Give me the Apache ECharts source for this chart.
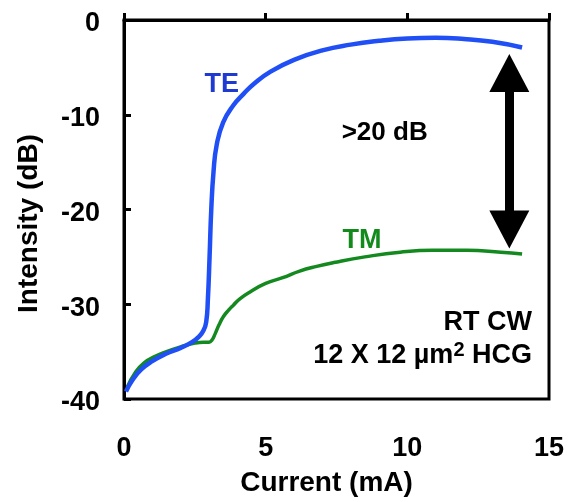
<!DOCTYPE html>
<html>
<head>
<meta charset="utf-8">
<script src="https://cdn.jsdelivr.net/npm/echarts@6/dist/echarts.min.js"></script>
<style>html,body{margin:0;padding:0;background:#fff}#c{width:568px;height:502px}</style>
</head>
<body>
<div id="c"></div>
<script>
var xTicks = [0, 5, 10, 15];
var yTicks = [-40, -30, -20, -10, 0];
var teX = [0.07,0.3,0.6,1.0,1.5,2.0,2.4,2.65,2.8,2.9,2.96,3.02,3.08,3.16,3.27,3.5,3.86,4.22,4.6,5.2,6,7,8,9,10,11,12,13,14.05];
var teY = [-39.2,-38.0,-36.9,-36.0,-35.2,-34.6,-34.0,-33.4,-32.8,-31.9,-29.5,-25,-20,-16,-13.2,-10.8,-9.0,-7.8,-6.7,-5.4,-4.2,-3.2,-2.6,-2.2,-1.95,-1.87,-2.0,-2.3,-2.9];
var tmX = [0.12,0.4,0.7,1.1,1.5,2.0,2.5,2.8,3.0,3.1,3.22,3.35,3.51,3.7,3.86,4.1,4.45,5.0,5.6,6.2,6.8,7.4,8.5,9.75,10.9,12.1,13.3,14.05];
var tmY = [-38.7,-37.2,-36.2,-35.5,-35.0,-34.5,-34.1,-34.0,-34.0,-33.8,-33.1,-32.2,-31.3,-30.6,-30.1,-29.4,-28.7,-27.8,-27.2,-26.5,-26.0,-25.6,-25.0,-24.5,-24.3,-24.3,-24.5,-24.7];
var arrowX = 13.6;
var arrowY = [-5.6, -22.1];
var notes = [
  {name: 'TE', x: 3.45, y: -6.8},
  {name: 'TM', x: 8.4, y: -23.3},
  {name: '>20 dB', x: 9.2, y: -11.9},
  {name: 'RT CW', x: 14.4, y: -31.9},
  {name: 'HCG', x: 14.4, y: -35.4}
];
function pts(xs, ys){ return xs.map(function(x,i){ return [x, ys[i]]; }); }
var FONT = '"Liberation Sans", Arial, sans-serif';
var chart = echarts.init(document.getElementById('c'));
function note(n){ return notes.filter(function(d){return d.name===n;})[0]; }
chart.setOption({
  animation: false,
  grid: {left: 124, top: 20, right: 19, bottom: 100, show: true, borderColor: '#000', borderWidth: 3, backgroundColor: 'transparent'},
  xAxis: {
    type: 'value', min: xTicks[0], max: xTicks[xTicks.length-1], interval: 5,
    name: 'Current (mA)', nameLocation: 'middle', nameGap: 70,
    nameTextStyle: {fontFamily: FONT, fontWeight: 'bold', fontSize: 28, color: '#000', padding: [0, 20, 0, 0]},
    axisLine: {show: true, lineStyle: {color: '#000', width: 3}},
    axisTick: {show: true, inside: true, length: 7, lineStyle: {color: '#000', width: 3}},
    axisLabel: {margin: 36, fontFamily: FONT, fontWeight: 'bold', fontSize: 27, color: '#000'},
    splitLine: {show: false}
  },
  yAxis: {
    type: 'value', min: yTicks[0], max: yTicks[yTicks.length-1], interval: 10,
    name: 'Intensity (dB)', nameLocation: 'middle', nameGap: 81,
    nameTextStyle: {fontFamily: FONT, fontWeight: 'bold', fontSize: 28, color: '#000', padding: [0, 28, 0, 0]},
    axisLine: {show: true, lineStyle: {color: '#000', width: 3}},
    axisTick: {show: true, inside: true, length: 7, lineStyle: {color: '#000', width: 3}},
    axisLabel: {margin: 24, formatter: '{v|{value}}',
      rich: {v: {fontFamily: FONT, fontWeight: 'bold', fontSize: 27, color: '#000', padding: [8, 0, 0, 0]}}},
    splitLine: {show: false}
  },
  series: [
    {type: 'line', data: pts(tmX, tmY), showSymbol: false, smooth: 0.5,
     lineStyle: {color: '#14891f', width: 3.5}, z: 2},
    {type: 'line', data: pts(teX, teY), showSymbol: false, smooth: 0.5,
     lineStyle: {color: '#1f4ff5', width: 4.5}, z: 3,
     markLine: {silent: true, symbol: ['triangle', 'triangle'], symbolSize: [40, 38], animation: false,
       label: {show: false},
       lineStyle: {color: '#000', width: 9, type: 'solid', opacity: 1},
       itemStyle: {color: '#000', opacity: 1},
       data: [[{coord: [arrowX, arrowY[0]]}, {coord: [arrowX, arrowY[1]]}]]}},
    {type: 'scatter', symbolSize: 0, silent: true, z: 5, itemStyle: {opacity: 1},
     data: [
       {value: [note('TE').x, note('TE').y], label: {show: true, position: 'inside', formatter: 'TE', color: '#1e3ad0', fontSize: 27}},
       {value: [note('TM').x, note('TM').y], label: {show: true, position: 'inside', formatter: 'TM', color: '#138a1c', fontSize: 27}},
       {value: [note('>20 dB').x, note('>20 dB').y], label: {show: true, position: 'inside', formatter: '>20 dB', color: '#000', fontSize: 26}},
       {value: [note('RT CW').x, note('RT CW').y], label: {show: true, position: 'left', distance: 0, formatter: 'RT CW', color: '#000', fontSize: 27}},
       {value: [note('HCG').x, note('HCG').y], label: {show: true, position: 'left', distance: 0,
         formatter: '{a|12 X 12 µm}{s|2}{a| HCG}',
         rich: {a: {fontFamily: FONT, fontWeight: 'bold', fontSize: 27, color: '#000'},
                s: {fontFamily: FONT, fontWeight: 'bold', fontSize: 20, color: '#000', padding: [0, 0, 10, 0]}}}}
     ],
     label: {fontFamily: FONT, fontWeight: 'bold', opacity: 1}}
  ]
});
</script>
</body>
</html>
